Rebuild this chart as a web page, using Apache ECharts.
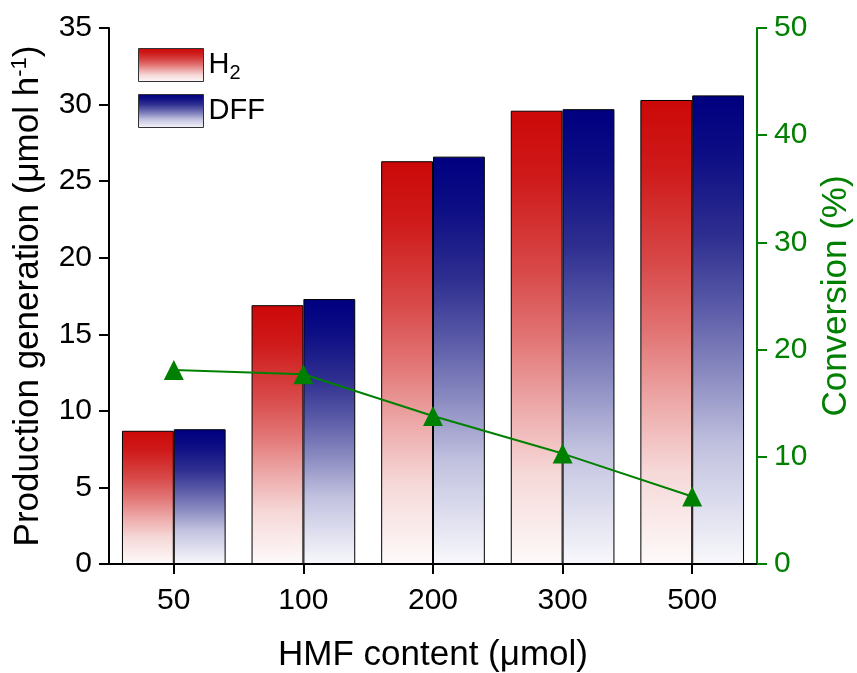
<!DOCTYPE html>
<html>
<head>
<meta charset="utf-8">
<script src="https://cdn.jsdelivr.net/npm/echarts@6/dist/echarts.min.js"></script>
<style>
  html, body { margin: 0; padding: 0; background: #fff; }
  #chart { width: 857px; height: 673px; }
</style>
</head>
<body>
<div id="chart"></div>
<script>
// HMF loading (µmol) on the category axis
const categories = ['50', '100', '200', '300', '500'];
// Production rates (µmol h-1)
const h2Values = [8.7, 16.9, 26.3, 29.6, 30.3];
const dffValues = [8.8, 17.3, 26.6, 29.7, 30.6];
// HMF conversion (%)
const conversionValues = [18.1, 17.7, 13.8, 10.3, 6.3];

const FONT = '"Liberation Sans", Arial, sans-serif';
const GREEN = '#008000';
const TICK_FS = 30;
const TITLE_FS = 35;

// vertical fade, strong colour at the top of each bar to near white at its base
function vGrad(stops) {
  return new echarts.graphic.LinearGradient(0, 0, 0, 1,
    stops.map(s => ({ offset: s[0], color: s[1] })));
}

const redFill = () => vGrad([
  [0, '#cc0808'], [0.15, '#cf1a1a'], [0.35, '#d84848'], [0.5, '#e27474'],
  [0.65, '#eda8a8'], [0.8, '#f6d8d8'], [1, '#fefafa']
]);
const blueFill = () => vGrad([
  [0, '#000080'], [0.12, '#0c0c84'], [0.3, '#2e2e90'], [0.45, '#5a5aa8'],
  [0.6, '#8c8cc2'], [0.75, '#c2c2e0'], [1, '#f8f8fc']
]);

const chart = echarts.init(document.getElementById('chart'), null, { renderer: 'canvas' });

chart.setOption({
  backgroundColor: '#fff',
  animation: false,
  textStyle: { fontFamily: FONT },
  grid: { left: 109, right: 100, top: 28, bottom: 109, containLabel: false, outerBoundsMode: 'none' },
  legend: {
    left: 138, top: 48, orient: 'vertical', icon: 'rect', padding: 0,
    itemWidth: 65, itemHeight: 33, itemGap: 11,
    textStyle: {
      fontFamily: FONT, fontSize: 29, color: '#000',
      rich: {
        b: { fontFamily: FONT, fontSize: 29, color: '#000' },
        sub: { fontFamily: FONT, fontSize: 20, color: '#000', padding: [16, 0, 0, 0] }
      }
    },
    formatter: function (name) {
      return name === 'H2' ? '{b|H}{sub|2}' : '{b|' + name + '}';
    },
    data: [
      { name: 'H2', itemStyle: { color: redFill(), borderColor: '#333', borderWidth: 1 } },
      { name: 'DFF', itemStyle: { color: blueFill(), borderColor: '#333', borderWidth: 1 } }
    ]
  },
  xAxis: [
    {
      type: 'category', data: categories, position: 'bottom',
      name: 'HMF content (μmol)', nameLocation: 'middle', nameGap: 74,
      nameTextStyle: { fontFamily: FONT, fontSize: TITLE_FS, color: '#000' },
      axisLine: { lineStyle: { color: '#000', width: 2 } },
      axisTick: { show: true, alignWithLabel: true, length: 10, inside: false, lineStyle: { color: '#000', width: 2 } },
      axisLabel: { fontFamily: FONT, fontSize: TICK_FS, color: '#000', margin: 22 }
    },
    {
      type: 'category', data: categories, position: 'top',
      axisLine: { lineStyle: { color: '#000', width: 2 } },
      axisTick: { show: false }, axisLabel: { show: false }
    }
  ],
  yAxis: [
    {
      type: 'value', min: 0, max: 35, interval: 5, position: 'left',
      name: '{t|Production generation (μmol h}{sup|-1}{t|)}',
      nameLocation: 'middle', nameGap: 61, nameRotate: 90,
      nameTextStyle: {
        fontFamily: FONT, fontSize: TITLE_FS, color: '#000',
        rich: {
          t: { fontFamily: FONT, fontSize: TITLE_FS, color: '#000' },
          sup: { fontFamily: FONT, fontSize: 22, color: '#000', padding: [0, 0, 17, 0] }
        }
      },
      axisLine: { show: true, lineStyle: { color: '#000', width: 2 } },
      axisTick: { show: true, length: 10, inside: false, lineStyle: { color: '#000', width: 2 } },
      axisLabel: { fontFamily: FONT, fontSize: TICK_FS, color: '#000', margin: 17 },
      splitLine: { show: false }
    },
    {
      type: 'value', min: 0, max: 50, interval: 10, position: 'right',
      name: 'Conversion (%)', nameLocation: 'middle', nameGap: 62, nameRotate: 90,
      nameTextStyle: { fontFamily: FONT, fontSize: TITLE_FS, color: GREEN },
      axisLine: { show: true, lineStyle: { color: GREEN, width: 2 } },
      axisTick: { show: true, length: 10, inside: false, lineStyle: { color: GREEN, width: 2 } },
      axisLabel: { fontFamily: FONT, fontSize: TICK_FS, color: GREEN, margin: 17 },
      splitLine: { show: false }
    }
  ],
  series: [
    {
      name: 'H2', type: 'bar', data: h2Values, barWidth: '40%', barGap: '0%',
      itemStyle: { color: redFill(), borderColor: '#000', borderWidth: 1 }
    },
    {
      name: 'DFF', type: 'bar', data: dffValues, barWidth: '40%', barGap: '0%',
      itemStyle: { color: blueFill(), borderColor: '#000', borderWidth: 1 }
    },
    {
      name: 'Conversion', type: 'line', yAxisIndex: 1, data: conversionValues,
      symbol: 'triangle', symbolSize: 20,
      lineStyle: { color: GREEN, width: 2 },
      itemStyle: { color: GREEN },
      z: 5
    }
  ]
});
</script>
</body>
</html>
